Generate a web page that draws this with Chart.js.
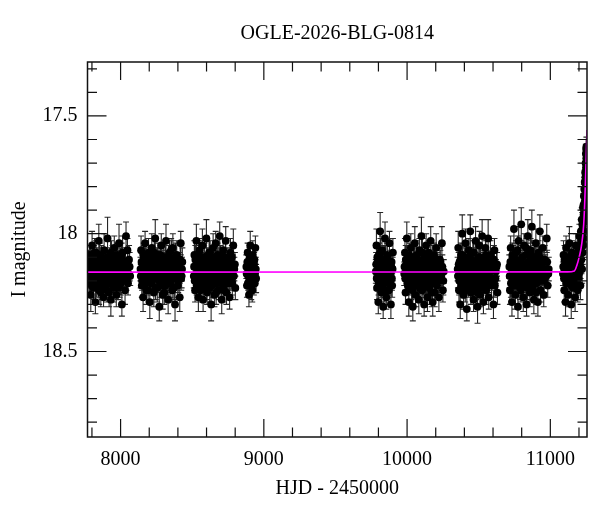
<!DOCTYPE html>
<html>
<head>
<meta charset="utf-8">
<script src="https://cdn.jsdelivr.net/npm/chart.js@4.4.1/dist/chart.umd.min.js"></script>
<style>
  html, body { margin: 0; padding: 0; background: #fff; }
  #wrap { width: 600px; height: 512px; }
</style>
</head>
<body>
<div id="wrap"><canvas id="lc" width="600" height="512"></canvas></div>
<script>
// OGLE photometry, [HJD-2450000, I mag, error] per observing season (two batches each)
const season1 = [[7775,18.12,.05],[7779,18.21,.06],[7783,18.09,.04],[7788,18.18,.05],[7792,18.26,.07],[7797,18.14,.05],[7801,18.05,.06],[7806,18.19,.04],[7811,18.23,.05],[7815,18.11,.06],
  [7820,18.16,.08],[7824,18.29,.05],[7829,18.08,.05],[7834,18.17,.04],[7838,18.13,.06],[7843,18.22,.05],[7848,18.03,.07],[7852,18.19,.05],[7857,18.15,.04],[7862,18.25,.06],
  [7866,18.10,.05],[7871,18.18,.05],[7876,18.14,.06],[7881,18.27,.04],[7885,18.07,.07],[7890,18.20,.05],[7895,18.16,.05],[7899,18.12,.06],[7904,18.24,.05],[7909,18.02,.09],
  [7914,18.17,.04],[7918,18.21,.06],[7923,18.11,.05],[7928,18.15,.05],[7932,18.28,.07],[7937,18.09,.06],[7942,18.19,.04],[7947,18.13,.05],[7951,18.23,.06],[7956,18.06,.05],
  [7961,18.18,.05],[7966,18.14,.07],[7970,18.26,.05],[7975,18.10,.06],[7980,18.20,.04],[7985,18.16,.05],[7989,18.04,.08],[7994,18.22,.05],[7999,18.12,.06],[8004,18.19,.05],
  [8009,18.30,.05],[8014,18.08,.07],[8019,18.17,.04],[8025,18.13,.05],[8031,18.24,.06],[8038,18.01,.06],[8045,18.15,.05],[8052,18.21,.05],[8059,18.11,.06],[8067,18.18,.04]];
const season1b = [[7777,18.17,.05],[7781,18.13,.04],[7786,18.20,.05],[7790,18.10,.05],[7795,18.16,.06],[7799,18.22,.05],[7804,18.12,.05],[7808,18.15,.04],[7813,18.18,.05],[7818,18.08,.06],
  [7822,18.19,.05],[7827,18.14,.05],[7831,18.21,.06],[7836,18.11,.05],[7841,18.17,.04],[7845,18.13,.05],[7850,18.24,.06],[7855,18.09,.05],[7859,18.16,.05],[7864,18.20,.05],
  [7869,18.12,.06],[7873,18.23,.05],[7878,18.15,.04],[7883,18.18,.05],[7887,18.11,.05],[7892,18.14,.06],[7897,18.22,.05],[7902,18.17,.05],[7906,18.10,.04],[7911,18.19,.05],
  [7916,18.13,.05],[7920,18.25,.06],[7925,18.16,.05],[7930,18.08,.05],[7935,18.20,.04],[7939,18.15,.05],[7944,18.11,.06],[7949,18.18,.05],[7953,18.21,.05],[7958,18.14,.05],
  [7963,18.12,.06],[7968,18.19,.05],[7972,18.16,.04],[7977,18.09,.05],[7982,18.23,.05],[7987,18.13,.06],[7992,18.17,.05],[7997,18.15,.05],[8001,18.21,.05],[8007,18.10,.06],
  [8012,18.18,.05],[8016,18.14,.04],[8022,18.20,.05],[8028,18.16,.05],[8034,18.12,.06],[8041,18.19,.05],[8048,18.07,.05],[8055,18.17,.05],[8063,18.14,.06]];
const season2 = [[8139,18.15,.05],[8143,18.07,.06],[8148,18.22,.05],[8152,18.13,.04],[8157,18.27,.06],[8162,18.10,.05],[8166,18.19,.07],[8171,18.04,.05],[8176,18.17,.05],[8181,18.24,.06],
  [8185,18.12,.04],[8190,18.20,.05],[8195,18.08,.06],[8199,18.16,.05],[8204,18.29,.07],[8209,18.14,.05],[8213,18.21,.04],[8218,18.06,.06],[8223,18.18,.05],[8228,18.11,.05],
  [8232,18.25,.06],[8237,18.15,.05],[8242,18.02,.08],[8246,18.19,.05],[8251,18.13,.04],[8256,18.23,.06],[8261,18.09,.05],[8265,18.17,.05],[8270,18.31,.06],[8275,18.12,.05],
  [8279,18.20,.07],[8284,18.05,.05],[8289,18.16,.04],[8294,18.26,.06],[8298,18.10,.05],[8303,18.18,.05],[8308,18.14,.06],[8313,18.22,.05],[8317,18.03,.07],[8322,18.19,.05],
  [8327,18.12,.04],[8332,18.28,.06],[8336,18.15,.05],[8341,18.08,.05],[8346,18.21,.06],[8351,18.17,.05],[8355,18.11,.08],[8360,18.24,.05],[8365,18.06,.06],[8370,18.19,.04],
  [8375,18.14,.05],[8380,18.30,.07],[8386,18.16,.05],[8392,18.09,.06],[8399,18.22,.05],[8406,18.13,.05],[8413,18.27,.06],[8420,18.04,.05],[8426,18.18,.05],[8431,18.12,.06]];
const season2b = [[8141,18.18,.05],[8146,18.12,.05],[8150,18.20,.04],[8155,18.15,.06],[8159,18.09,.05],[8164,18.22,.05],[8169,18.14,.05],[8173,18.17,.06],[8178,18.11,.05],[8183,18.19,.04],
  [8188,18.15,.05],[8192,18.24,.05],[8197,18.13,.06],[8202,18.18,.05],[8206,18.10,.05],[8211,18.16,.04],[8216,18.21,.05],[8220,18.12,.06],[8225,18.19,.05],[8230,18.14,.05],
  [8235,18.08,.05],[8239,18.17,.06],[8244,18.23,.05],[8249,18.15,.04],[8253,18.11,.05],[8258,18.18,.05],[8263,18.13,.06],[8268,18.20,.05],[8272,18.16,.05],[8277,18.09,.04],
  [8282,18.22,.05],[8286,18.14,.05],[8291,18.19,.06],[8296,18.12,.05],[8301,18.17,.05],[8305,18.25,.05],[8310,18.10,.06],[8315,18.16,.05],[8320,18.13,.04],[8324,18.21,.05],
  [8329,18.18,.05],[8334,18.11,.06],[8339,18.15,.05],[8343,18.20,.05],[8348,18.14,.04],[8353,18.07,.05],[8358,18.19,.05],[8363,18.16,.06],[8367,18.12,.05],[8372,18.23,.05],
  [8378,18.17,.05],[8383,18.10,.06],[8389,18.18,.05],[8396,18.14,.04],[8402,18.20,.05],[8409,18.16,.05],[8416,18.11,.06],[8423,18.19,.05],[8429,18.15,.05]];
const season3 = [[8511,18.18,.05],[8515,18.09,.06],[8520,18.24,.05],[8524,18.14,.04],[8529,18.03,.07],[8534,18.20,.05],[8538,18.11,.05],[8543,18.27,.06],[8548,18.16,.05],[8552,18.07,.05],
  [8557,18.22,.06],[8562,18.13,.04],[8566,18.19,.05],[8571,18.05,.07],[8576,18.28,.05],[8580,18.15,.05],[8585,18.10,.06],[8590,18.21,.05],[8594,18.17,.04],[8599,18.02,.08],
  [8604,18.25,.05],[8608,18.12,.06],[8613,18.18,.05],[8618,18.08,.05],[8622,18.23,.06],[8627,18.14,.05],[8632,18.30,.07],[8636,18.11,.05],[8641,18.19,.04],[8646,18.06,.06],
  [8650,18.16,.05],[8655,18.26,.05],[8660,18.13,.06],[8664,18.04,.05],[8669,18.21,.05],[8674,18.17,.07],[8678,18.09,.05],[8683,18.24,.04],[8688,18.15,.06],[8692,18.01,.06],
  [8697,18.20,.05],[8702,18.12,.05],[8706,18.28,.06],[8711,18.16,.05],[8716,18.07,.05],[8720,18.22,.07],[8725,18.14,.04],[8730,18.18,.05],[8734,18.03,.06],[8739,18.25,.05],
  [8744,18.11,.05],[8749,18.19,.06],[8755,18.13,.05],[8761,18.27,.05],[8767,18.08,.06],[8773,18.17,.04],[8780,18.21,.05],[8787,18.05,.07],[8794,18.15,.05],[8801,18.23,.05]];
const season3b = [[8513,18.14,.05],[8517,18.20,.05],[8522,18.11,.06],[8527,18.17,.05],[8531,18.22,.04],[8536,18.13,.05],[8541,18.16,.05],[8545,18.09,.06],[8550,18.19,.05],[8555,18.15,.05],
  [8559,18.24,.05],[8564,18.12,.06],[8569,18.18,.05],[8573,18.14,.04],[8578,18.21,.05],[8583,18.10,.05],[8587,18.16,.06],[8592,18.13,.05],[8597,18.19,.05],[8601,18.23,.05],
  [8606,18.15,.06],[8611,18.11,.05],[8615,18.17,.04],[8620,18.20,.05],[8625,18.08,.05],[8629,18.16,.06],[8634,18.14,.05],[8639,18.22,.05],[8643,18.12,.05],[8648,18.18,.06],
  [8653,18.15,.05],[8657,18.10,.04],[8662,18.19,.05],[8667,18.25,.05],[8671,18.13,.06],[8676,18.16,.05],[8681,18.11,.05],[8685,18.20,.05],[8690,18.17,.06],[8695,18.14,.05],
  [8699,18.09,.04],[8704,18.21,.05],[8709,18.15,.05],[8713,18.18,.06],[8718,18.12,.05],[8723,18.24,.05],[8727,18.16,.05],[8732,18.10,.06],[8737,18.19,.05],[8741,18.14,.04],
  [8747,18.17,.05],[8752,18.21,.05],[8758,18.12,.06],[8764,18.16,.05],[8770,18.19,.05],[8777,18.10,.05],[8784,18.15,.06],[8791,18.18,.05],[8798,18.13,.05]];
const season4 = [[8878,18.14,.05],[8882,18.22,.05],[8887,18.08,.04],[8891,18.18,.06],[8896,18.26,.05],[8900,18.11,.05],[8905,18.05,.06],[8909,18.20,.05],[8914,18.15,.04],[8919,18.24,.05],
  [8923,18.09,.06],[8928,18.17,.05],[8932,18.13,.05],[8937,18.21,.04],[8941,18.06,.05],[8946,18.19,.06]];
const season4b = [[8880,18.17,.05],[8885,18.12,.05],[8889,18.21,.06],[8894,18.15,.05],[8898,18.19,.04],[8903,18.10,.05],[8907,18.16,.05],[8912,18.22,.06],[8916,18.13,.05],[8921,18.18,.05],
  [8925,18.14,.05],[8930,18.20,.06],[8934,18.11,.05],[8939,18.17,.05],[8944,18.15,.05]];
const season5 = [[9782,18.16,.05],[9786,18.05,.07],[9790,18.23,.05],[9795,18.12,.06],[9799,18.29,.05],[9803,18.09,.05],[9807,18.19,.06],[9812,17.99,.08],[9816,18.14,.05],[9820,18.25,.05],
  [9825,18.07,.06],[9829,18.18,.05],[9833,18.31,.05],[9838,18.11,.06],[9842,18.21,.05],[9846,18.02,.07],[9851,18.15,.05],[9855,18.27,.05],[9859,18.10,.06],[9864,18.20,.05],
  [9868,18.13,.05],[9873,18.24,.06],[9877,18.04,.05],[9882,18.17,.05],[9887,18.30,.06],[9892,18.12,.05],[9896,18.22,.05],[9901,18.08,.06]];
const season5b = [[9784,18.13,.05],[9788,18.19,.05],[9792,18.10,.06],[9797,18.16,.05],[9801,18.21,.05],[9805,18.14,.04],[9810,18.18,.05],[9814,18.08,.06],[9818,18.22,.05],[9823,18.15,.05],
  [9827,18.12,.05],[9831,18.20,.06],[9836,18.17,.05],[9840,18.13,.05],[9844,18.24,.05],[9849,18.11,.06],[9853,18.18,.05],[9857,18.15,.04],[9862,18.09,.05],[9866,18.19,.05],
  [9871,18.16,.06],[9875,18.21,.05],[9880,18.12,.05],[9885,18.17,.05],[9890,18.14,.06],[9894,18.19,.05],[9899,18.15,.05]];
const season6 = [[9980,18.17,.05],[9985,18.08,.06],[9989,18.25,.05],[9994,18.13,.05],[9998,18.02,.07],[10003,18.21,.05],[10008,18.15,.04],[10012,18.29,.06],[10017,18.10,.05],[10022,18.19,.05],
  [10026,18.06,.06],[10031,18.23,.05],[10035,18.14,.05],[10040,18.31,.06],[10045,18.11,.05],[10049,18.18,.04],[10054,18.04,.07],[10059,18.26,.05],[10063,18.16,.05],[10068,18.09,.06],
  [10072,18.22,.05],[10077,18.13,.05],[10082,18.28,.06],[10086,18.07,.05],[10091,18.20,.05],[10096,18.15,.06],[10100,18.01,.08],[10105,18.24,.05],[10109,18.12,.05],[10114,18.18,.06],
  [10119,18.30,.05],[10123,18.10,.05],[10128,18.21,.06],[10133,18.05,.05],[10137,18.17,.05],[10142,18.27,.06],[10146,18.14,.05],[10151,18.08,.05],[10156,18.23,.07],[10160,18.16,.05],
  [10165,18.03,.06],[10170,18.20,.05],[10174,18.12,.05],[10179,18.29,.06],[10183,18.15,.05],[10188,18.09,.05],[10193,18.25,.06],[10197,18.18,.04],[10203,18.06,.06],[10209,18.22,.05],
  [10215,18.13,.05],[10222,18.27,.06],[10229,18.11,.05],[10236,18.19,.05],[10243,18.04,.07],[10250,18.24,.05],[10256,18.16,.05]];
const season6b = [[9982,18.14,.05],[9987,18.19,.05],[9991,18.11,.06],[9996,18.17,.05],[10001,18.13,.05],[10005,18.22,.04],[10010,18.16,.05],[10015,18.09,.05],[10019,18.20,.06],[10024,18.14,.05],
  [10028,18.18,.05],[10033,18.12,.05],[10038,18.24,.06],[10042,18.15,.05],[10047,18.10,.04],[10052,18.19,.05],[10056,18.16,.05],[10061,18.21,.06],[10066,18.13,.05],[10070,18.17,.05],
  [10075,18.11,.05],[10079,18.20,.06],[10084,18.15,.05],[10089,18.23,.05],[10093,18.12,.04],[10098,18.18,.05],[10103,18.14,.05],[10107,18.08,.06],[10112,18.21,.05],[10116,18.16,.05],
  [10121,18.13,.05],[10126,18.19,.06],[10130,18.15,.05],[10135,18.22,.05],[10140,18.11,.04],[10144,18.17,.05],[10149,18.14,.05],[10153,18.20,.06],[10158,18.12,.05],[10163,18.18,.05],
  [10167,18.15,.05],[10172,18.25,.06],[10176,18.10,.05],[10181,18.17,.05],[10186,18.13,.04],[10190,18.21,.05],[10195,18.16,.05],[10200,18.11,.06],[10206,18.19,.05],[10212,18.14,.05],
  [10219,18.20,.05],[10226,18.16,.06],[10232,18.12,.05],[10239,18.18,.05],[10246,18.14,.05],[10253,18.20,.06]];
const season7 = [[10353,18.15,.05],[10357,18.06,.07],[10362,18.24,.05],[10366,18.12,.05],[10371,18.30,.06],[10376,18.09,.05],[10380,18.19,.05],[10385,18.00,.08],[10390,18.16,.05],[10394,18.26,.06],
  [10399,18.11,.05],[10404,18.21,.05],[10408,18.04,.06],[10413,18.17,.05],[10417,18.32,.05],[10422,18.13,.06],[10427,18.22,.05],[10431,18.07,.05],[10436,18.18,.06],[10441,17.99,.07],
  [10445,18.25,.05],[10450,18.14,.05],[10454,18.20,.06],[10459,18.08,.05],[10464,18.28,.05],[10468,18.12,.06],[10473,18.17,.05],[10478,18.03,.06],[10482,18.23,.05],[10487,18.15,.05],
  [10492,18.31,.07],[10496,18.10,.05],[10501,18.19,.05],[10505,18.05,.06],[10510,18.26,.05],[10515,18.14,.05],[10519,18.21,.06],[10524,18.01,.07],[10529,18.17,.05],[10533,18.29,.05],
  [10538,18.11,.06],[10543,18.20,.05],[10547,18.06,.05],[10552,18.24,.06],[10556,18.13,.05],[10561,18.18,.05],[10566,18.02,.08],[10570,18.27,.05],[10576,18.15,.05],[10582,18.09,.06],
  [10589,18.22,.05],[10596,18.12,.05],[10603,18.30,.06],[10610,18.07,.05],[10617,18.19,.05],[10624,18.14,.06],[10631,18.25,.05]];
const season7b = [[10355,18.18,.05],[10360,18.13,.05],[10364,18.20,.06],[10369,18.15,.05],[10373,18.11,.05],[10378,18.22,.04],[10383,18.16,.05],[10387,18.09,.05],[10392,18.19,.06],[10397,18.14,.05],
  [10401,18.17,.05],[10406,18.24,.05],[10410,18.12,.06],[10415,18.18,.05],[10420,18.15,.05],[10424,18.10,.04],[10429,18.20,.05],[10434,18.13,.05],[10438,18.17,.06],[10443,18.22,.05],
  [10448,18.11,.05],[10452,18.16,.05],[10457,18.19,.06],[10461,18.14,.05],[10466,18.08,.05],[10471,18.21,.04],[10475,18.15,.05],[10480,18.18,.05],[10485,18.12,.06],[10489,18.25,.05],
  [10494,18.16,.05],[10498,18.13,.05],[10503,18.20,.06],[10508,18.15,.05],[10512,18.10,.05],[10517,18.18,.04],[10522,18.14,.05],[10526,18.23,.05],[10531,18.16,.06],[10536,18.12,.05],
  [10540,18.19,.05],[10545,18.15,.05],[10550,18.09,.06],[10554,18.21,.05],[10559,18.14,.05],[10564,18.17,.04],[10568,18.12,.05],[10573,18.20,.05],[10579,18.16,.06],[10586,18.13,.05],
  [10592,18.19,.05],[10599,18.15,.05],[10606,18.11,.06],[10613,18.22,.05],[10620,18.16,.05],[10628,18.13,.05]];
const season8 = [[10714,18.14,.05],[10718,18.24,.06],[10723,18.06,.05],[10728,18.18,.05],[10732,18.29,.06],[10737,18.10,.05],[10742,18.20,.05],[10746,17.98,.08],[10751,18.15,.05],[10756,18.26,.06],
  [10760,18.08,.05],[10765,18.21,.05],[10769,18.12,.06],[10774,18.31,.05],[10779,18.03,.06],[10783,18.17,.05],[10788,18.23,.05],[10792,18.11,.06],[10797,17.96,.07],[10802,18.19,.05],
  [10806,18.13,.05],[10811,18.27,.06],[10816,18.05,.05],[10820,18.16,.05],[10825,18.22,.06],[10830,18.09,.05],[10834,18.30,.05],[10839,18.14,.06],[10843,18.01,.07],[10848,18.20,.05],
  [10853,18.12,.05],[10857,18.25,.06],[10862,18.07,.05],[10867,18.18,.05],[10871,17.97,.07],[10876,18.23,.05],[10880,18.15,.05],[10885,18.28,.06],[10890,18.10,.05],[10894,18.19,.05],
  [10899,18.04,.06],[10904,18.21,.05],[10908,18.13,.05],[10913,18.29,.06],[10917,18.08,.05],[10922,18.17,.05],[10927,17.99,.07],[10931,18.24,.05],[10936,18.14,.05],[10941,18.20,.06],
  [10947,18.06,.05],[10954,18.26,.05],[10961,18.11,.06],[10968,18.18,.05],[10975,18.02,.06],[10982,18.22,.05],[10989,18.15,.05]];
const season8b = [[10716,18.18,.05],[10721,18.12,.05],[10725,18.21,.06],[10730,18.15,.05],[10735,18.09,.05],[10739,18.17,.04],[10744,18.13,.05],[10749,18.22,.05],[10753,18.16,.06],[10758,18.11,.05],
  [10762,18.19,.05],[10767,18.14,.05],[10772,18.07,.06],[10776,18.20,.05],[10781,18.16,.05],[10786,18.12,.04],[10790,18.18,.05],[10795,18.24,.05],[10799,18.14,.06],[10804,18.10,.05],
  [10809,18.17,.05],[10813,18.21,.05],[10818,18.13,.06],[10823,18.19,.05],[10827,18.15,.05],[10832,18.06,.04],[10836,18.18,.05],[10841,18.23,.05],[10846,18.12,.06],[10850,18.16,.05],
  [10855,18.20,.05],[10860,18.14,.05],[10864,18.09,.06],[10869,18.18,.05],[10873,18.13,.05],[10878,18.21,.04],[10883,18.16,.05],[10887,18.11,.05],[10892,18.19,.06],[10897,18.15,.05],
  [10901,18.25,.05],[10906,18.12,.05],[10910,18.17,.06],[10915,18.14,.05],[10920,18.20,.05],[10924,18.10,.04],[10929,18.16,.05],[10934,18.19,.05],[10939,18.13,.06],[10944,18.17,.05],
  [10950,18.11,.05],[10957,18.20,.05],[10964,18.15,.06],[10971,18.18,.05],[10978,18.12,.05],[10986,18.17,.05]];
const season9 = [[11088,18.17,.05],[11092,18.09,.06],[11097,18.24,.05],[11101,18.13,.05],[11106,18.29,.06],[11110,18.06,.05],[11115,18.19,.05],[11119,18.11,.06],[11124,18.26,.05],[11128,18.15,.05],
  [11133,18.04,.07],[11137,18.21,.05],[11142,18.12,.05],[11146,18.30,.06],[11151,18.08,.05],[11155,18.18,.05],[11160,18.23,.06],[11164,18.10,.05],[11169,18.16,.05],[11173,18.27,.06],
  [11178,18.05,.05],[11182,18.19,.05],[11187,18.13,.06],[11191,18.24,.05],[11195,18.07,.05],[11199,18.17,.06],[11203,18.01,.05],[11207,18.12,.05],[11210,18.22,.06],[11213,17.99,.05],
  [11216,18.08,.05],[11219,17.94,.05],[11222,18.15,.06],[11225,17.98,.05],[11228,17.89,.05],[11230,18.05,.06],[11232,17.92,.05],[11234,17.84,.05],[11236,17.99,.05],[11238,17.87,.05],
  [11240,17.78,.05],[11241,17.93,.05],[11243,17.74,.04],[11244,17.83,.05],[11246,17.70,.04],[11247,17.79,.05],[11248,17.66,.04],[11249,17.72,.04],[11250,17.64,.04],[11251,17.68,.04]];
const season9b = [[11090,18.14,.05],[11095,18.19,.05],[11099,18.11,.06],[11104,18.17,.05],[11108,18.13,.05],[11112,18.21,.04],[11117,18.15,.05],[11121,18.18,.05],[11126,18.10,.06],[11130,18.20,.05],
  [11135,18.14,.05],[11139,18.17,.05],[11144,18.12,.06],[11148,18.22,.05],[11153,18.15,.05],[11157,18.11,.04],[11162,18.19,.05],[11166,18.14,.05],[11171,18.18,.06],[11175,18.12,.05],
  [11180,18.16,.05],[11184,18.21,.05],[11189,18.10,.06],[11193,18.15,.05],[11197,18.19,.05],[11201,18.11,.05],[11205,18.16,.06],[11208,18.06,.05],[11211,18.14,.05],[11214,18.03,.05],
  [11217,18.11,.06],[11220,18.01,.05],[11223,17.96,.05],[11226,18.08,.05],[11229,17.95,.05],[11231,17.88,.05],[11233,18.02,.05],[11235,17.91,.05],[11237,17.81,.05],[11239,17.95,.05],
  [11242,17.86,.05],[11245,17.76,.04],[11248,17.81,.05],[11250,17.70,.04],[11252,17.63,.04],[11253,17.75,.04],[11254,17.66,.04]];

// microlensing model curve
const modelT = [7769, 11120, 11168, 11185, 11203, 11215, 11226, 11233, 11238, 11244, 11250, 11256];
const modelM = [18.163, 18.162, 18.158, 18.135, 18.095, 18.06, 18.01, 17.96, 17.90, 17.80, 17.685, 17.56];

const xMajor = [8000, 9000, 10000, 11000];
const xMinor = [7800, 8200, 8400, 8600, 8800, 9200, 9400, 9600, 9800, 10200, 10400, 10600, 10800, 11200];
const yMajor = [17.5, 18, 18.5];
const yMinor = [17.3, 17.4, 17.6, 17.7, 17.8, 17.9, 18.1, 18.2, 18.3, 18.4, 18.6, 18.7, 18.8];

const FONT = "'Liberation Serif', 'Times New Roman', serif";

let seasons = [season1, season1b, season2, season2b, season3, season3b, season4, season4b,
  season5, season5b, season6, season6b, season7, season7b, season8, season8b, season9, season9b];
let phot = [];
seasons.forEach(s => s.forEach(p => phot.push({ x: p[0], y: p[1], e: p[2] })));
let model = modelT.map((t, i) => ({ x: t, y: modelM[i] }));

const errorBars = {
  id: "errorBars",
  beforeDatasetsDraw(chart) {
    let ctx = chart.ctx;
    let xs = chart.scales.x, ys = chart.scales.y;
    let a = chart.chartArea;
    ctx.save();
    ctx.beginPath();
    ctx.rect(a.left, a.top, a.right - a.left, a.bottom - a.top);
    ctx.clip();
    ctx.strokeStyle = "#262626";
    ctx.lineWidth = 1.1;
    ctx.beginPath();
    chart.data.datasets[1].data.forEach(p => {
      let px = xs.getPixelForValue(p.x);
      let y1 = ys.getPixelForValue(p.y - p.e);
      let y2 = ys.getPixelForValue(p.y + p.e);
      ctx.moveTo(px, y1); ctx.lineTo(px, y2);
      ctx.moveTo(px - 3, y1); ctx.lineTo(px + 3, y1);
      ctx.moveTo(px - 3, y2); ctx.lineTo(px + 3, y2);
    });
    ctx.stroke();
    ctx.restore();
  }
};

const frame = {
  id: "frame",
  afterDraw(chart) {
    let ctx = chart.ctx;
    let xs = chart.scales.x, ys = chart.scales.y;
    let a = chart.chartArea;
    ctx.save();
    ctx.strokeStyle = "#111";
    ctx.lineWidth = 1.2;
    ctx.beginPath();
    const xt = (v, len) => {
      let px = xs.getPixelForValue(v);
      ctx.moveTo(px, a.bottom); ctx.lineTo(px, a.bottom - len);
      ctx.moveTo(px, a.top); ctx.lineTo(px, a.top + len);
    };
    const yt = (v, len) => {
      let py = ys.getPixelForValue(v);
      ctx.moveTo(a.left, py); ctx.lineTo(a.left + len, py);
      ctx.moveTo(a.right, py); ctx.lineTo(a.right - len, py);
    };
    xMajor.forEach(v => xt(v, 18));
    xMinor.forEach(v => xt(v, 9.5));
    yMajor.forEach(v => yt(v, 19));
    yMinor.forEach(v => yt(v, 9.5));
    ctx.stroke();
    ctx.lineWidth = 1.5;
    ctx.strokeRect(a.left, a.top, a.right - a.left, a.bottom - a.top);
    // title
    ctx.fillStyle = "#000";
    ctx.font = "20px " + FONT;
    ctx.textAlign = "center";
    ctx.textBaseline = "middle";
    ctx.fillText("OGLE-2026-BLG-0814", (a.left + a.right) / 2, 34);
    ctx.restore();
  }
};

function makeChart() {
  let ctx = document.getElementById("lc").getContext("2d");
  new Chart(ctx, {
    type: "scatter",
    data: {
      datasets: [
        {
          type: "line",
          label: "model",
          data: model,
          borderColor: "#ff00ff",
          borderWidth: 1.6,
          pointRadius: 0,
          cubicInterpolationMode: "monotone",
          fill: false,
          order: 0,
        },
        {
          label: "OGLE",
          data: phot,
          pointRadius: 3.9,
          pointBackgroundColor: "#000",
          pointBorderWidth: 0,
          order: 1,
        },
      ],
    },
    options: {
      responsive: false,
      animation: false,
      devicePixelRatio: 1,
      layout: { padding: { top: 62, right: 13, left: 0, bottom: 0 } },
      plugins: { legend: { display: false }, tooltip: { enabled: false } },
      scales: {
        x: {
          type: "linear",
          min: 7769,
          max: 11256,
          grid: { display: false, drawTicks: false },
          border: { display: false },
          afterBuildTicks: s => { s.ticks = xMajor.map(v => ({ value: v })); },
          afterFit: s => { s.height = 75; },
          ticks: {
            autoSkip: false,
            maxRotation: 0,
            padding: 11,
            color: "#000",
            font: { family: FONT, size: 20 },
            callback: v => String(v),
          },
          title: {
            display: true,
            text: "HJD - 2450000",
            color: "#000",
            font: { family: FONT, size: 20 },
            padding: { top: 0, bottom: 11 },
          },
        },
        y: {
          type: "linear",
          reverse: true,
          min: 17.271,
          max: 18.863,
          grid: { display: false, drawTicks: false },
          border: { display: false },
          afterBuildTicks: s => { s.ticks = yMajor.map(v => ({ value: v })); },
          afterFit: s => { s.width = 87.5; },
          ticks: {
            autoSkip: false,
            padding: 10,
            color: "#000",
            font: { family: FONT, size: 20 },
            callback: v => String(v),
          },
          title: {
            display: true,
            text: "I magnitude",
            color: "#000",
            font: { family: FONT, size: 20 },
            padding: { top: 8, bottom: 0 },
          },
        },
      },
    },
    plugins: [errorBars, frame],
  });
}

makeChart();
</script>
</body>
</html>
